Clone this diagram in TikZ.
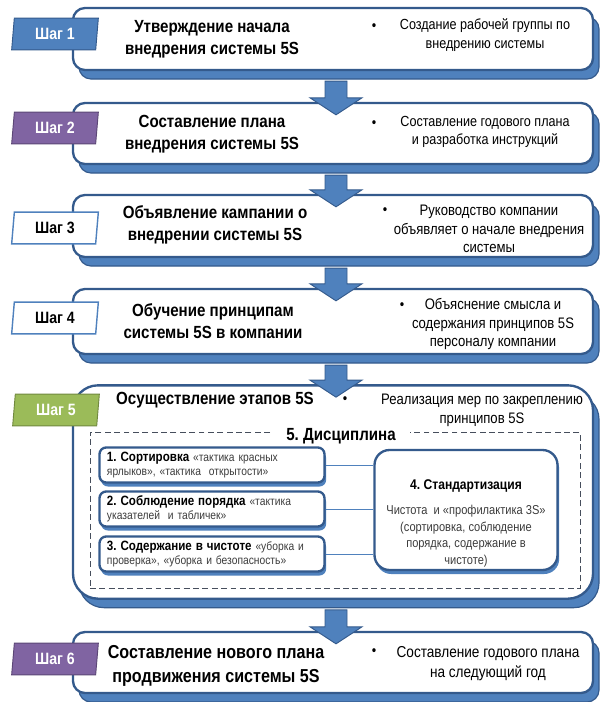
\documentclass[tikz,border=0pt]{standalone}
\usepackage{fontspec}
\setmainfont[FakeStretch=0.86]{Liberation Sans}
\usetikzlibrary{shapes.geometric, shadows, calc}

\definecolor{stepblue}{RGB}{79,129,189}
\definecolor{stepline}{RGB}{52,90,140}
\definecolor{steppurple}{RGB}{128,100,162}
\definecolor{purpleline}{RGB}{92,71,118}
\definecolor{stepgreen}{RGB}{155,187,89}
\definecolor{greenline}{RGB}{113,137,63}
\definecolor{dashgray}{RGB}{70,78,92}
\definecolor{subtext}{RGB}{60,60,60}

\newcommand{\subfontsel}{\fontsize{10.2}{13}\selectfont\color{subtext}}

% block arrow from one step box down to the next
\newcommand{\steparrow}[2]{%
  \path (#1.south) ++(3,10) coordinate (atop) (#2.north) ++(3,13) coordinate (atip);
  \draw[blockarr] ($(atop)+(-11,0)$) -- ($(atop)+(11,0)$) -- ($(atip)+(11,-17)$)
    -- ($(atip)+(26,-17)$) -- (atip) -- ($(atip)+(-26,-17)$) -- ($(atip)+(-11,-17)$) -- cycle;
}

\frenchspacing

\begin{document}
\begin{tikzpicture}[
  x=0.03cm, y=-0.03cm,
  stepbox/.style={draw=stepline, line width=2pt, fill=white, rounded corners=0.36cm,
                  minimum width=15.6cm,
                  general shadow={fill=stepblue, draw=stepline, line width=1pt,
                                  shadow xshift=0.18cm, shadow yshift=-0.27cm}},
  tag/.style={trapezium, trapezium left angle=77, trapezium right angle=103,
              trapezium stretches body, minimum width=2.6cm, minimum height=0.95cm,
              line width=0.8pt, inner sep=0pt, font=\bfseries\fontsize{14}{16}\selectfont},
  ttl/.style={align=center, font=\bfseries\fontsize{15}{19}\selectfont},
  desc/.style={align=center, font=\fontsize{12.5}{16}\selectfont},
  dot/.style={font=\fontsize{12.5}{16}\selectfont},
  blockarr/.style={fill=stepblue, draw=stepline, line width=0.8pt},
  subbox/.style={draw=stepline, line width=2pt, fill=white, rounded corners=0.2cm,
                 minimum width=6.75cm, minimum height=1.05cm, text width=6.3cm, align=left,
                 inner xsep=0.2cm,
                 general shadow={fill=stepblue, shadow xshift=0.05cm, shadow yshift=-0.12cm}},
  link/.style={draw=stepblue, line width=0.8pt}
]
  \useasboundingbox (0,0) rectangle (602,702);

  % step boxes
  \node[stepbox, minimum height=1.86cm] (s1) at (333,39) {};
  \node[stepbox, minimum height=1.83cm] (s2) at (333,133.5) {};
  \node[stepbox, minimum height=1.86cm] (s3) at (333,226) {};
  \node[stepbox, minimum height=1.95cm] (s4) at (333,321.5) {};
  \node[stepbox, minimum height=6.4cm, rounded corners=0.75cm] (s5) at (333,492) {};
  \node[stepbox, minimum height=1.83cm] (s6) at (333,662.5) {};

  % step tags
  \node[tag, fill=stepblue, draw=stepline, text=white] (g1) at (55,34) {Шаг 1};
  \node[tag, fill=steppurple, draw=purpleline, text=white] (g2) at (55,128) {Шаг 2};
  \node[tag, fill=white, draw=stepblue, line width=1.2pt] (g3) at (55,228) {Шаг 3};
  \node[tag, fill=white, draw=stepblue, line width=1.2pt] (g4) at (55,318) {Шаг 4};
  \node[tag, fill=stepgreen, draw=greenline, text=white] (g5) at (56,410) {Шаг 5};
  \node[tag, fill=steppurple, draw=purpleline, text=white] (g6) at (55,659) {Шаг 6};

  % step 1
  \node[ttl] (t1) at (212,39) {Утверждение начала\\внедрения системы 5S};
  \node[dot] (b1) at (374,27) {•};
  \node[desc] (d1) at (485,35) {Создание рабочей группы по\\внедрению системы};

  % step 2
  \node[ttl] (t2) at (212,134) {Составление плана\\внедрения системы 5S};
  \node[dot] (b2) at (374,124) {•};
  \node[desc] (d2) at (485,132) {Составление годового плана\\и разработка инструкций};

  % step 3
  \node[ttl] (t3) at (215,225) {Объявление кампании о\\внедрении системы 5S};
  \node[dot] (b3) at (385,211) {•};
  \node[desc, font=\fontsize{13}{16}\selectfont] (d3) at (489,229) {Руководство компании\\объявляет о начале внедрения\\системы};

  % step 4
  \node[ttl] (t4) at (213,321) {Обучение принципам\\системы 5S в компании};
  \node[dot] (b4) at (402,306) {•};
  \node[desc, font=\fontsize{13}{16}\selectfont] (d4) at (493,324) {Объяснение смысла и\\содержания принципов 5S\\персоналу компании};

  % step 5
  \node[ttl] (t5) at (215,400) {Осуществление этапов 5S};
  \node[dot] (b5) at (345,400) {•};
  \node[desc, font=\fontsize{13}{16}\selectfont] (d5) at (482,410) {Реализация мер по закреплению\\принципов 5S};

  \node[draw=dashgray, dash pattern=on 5pt off 3pt, line width=0.8pt,
        minimum width=14.7cm, minimum height=4.68cm] (disc) at (335,510) {};
  \node[fill=white, inner xsep=12pt, inner ysep=2pt, font=\bfseries\fontsize{15}{18}\selectfont]
    (disct) at ([xshift=0.18cm, yshift=-0.14cm]disc.north) {5. Дисциплина};

  \node[subbox] (sub1) at (212,465) {{\bfseries\fontsize{11.5}{13}\selectfont 1. Сортировка}
    {\subfontsel «тактика красных}\\{\subfontsel ярлыков», «тактика\ \ открытости»}};
  \node[subbox] (sub2) at (212,509) {{\bfseries\fontsize{11.5}{13}\selectfont 2. Соблюдение порядка}
    {\subfontsel «тактика}\\{\subfontsel указателей\ \ и табличек»}};
  \node[subbox] (sub3) at (212,554) {{\bfseries\fontsize{11.5}{13}\selectfont 3. Содержание в чистоте}
    {\subfontsel «уборка и}\\{\subfontsel проверка», «уборка и безопасность»}};

  \node[subbox, minimum width=5.49cm, minimum height=3.6cm, text width=5cm,
        rounded corners=0.45cm] (std) at (466,510) {};
  \node[align=center, font=\fontsize{11}{14}\selectfont, text=subtext] (stdt) at (466,523)
    {{\bfseries\fontsize{12}{15}\selectfont\color{black} 4. Стандартизация}\\[8pt]
     Чистота\ \ и «профилактика 3S»\\(сортировка, соблюдение\\порядка, содержание в\\чистоте)};

  \draw[link] (sub1.east) -- (sub1.east -| std.west);
  \draw[link] (sub2.east) -- (sub2.east -| std.west);
  \draw[link] (sub3.east) -- (sub3.east -| std.west);

  % step 6
  \node[ttl, font=\bfseries\fontsize{16}{20}\selectfont] (t6) at (216,666) {Составление нового плана\\продвижения системы 5S};
  \node[dot] (b6) at (374,652) {•};
  \node[desc, font=\fontsize{13.5}{17}\selectfont] (d6) at (488,664) {Составление годового плана\\на следующий год};

  % arrows between steps
  \steparrow{s1}{s2}
  \steparrow{s2}{s3}
  \steparrow{s3}{s4}
  \steparrow{s4}{s5}
  \steparrow{s5}{s6}
\end{tikzpicture}
\end{document}
